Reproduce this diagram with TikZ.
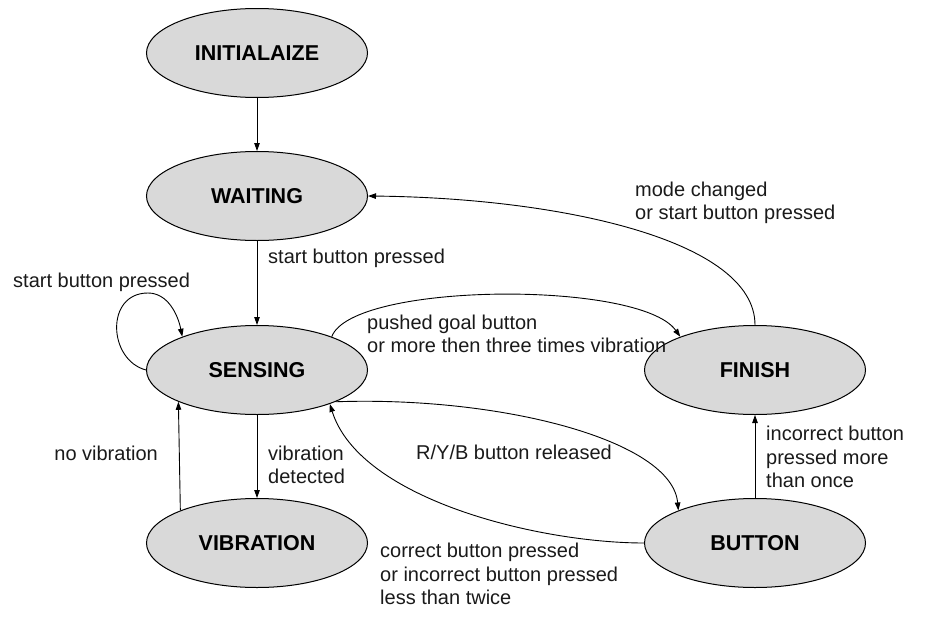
\documentclass[tikz,border=0pt]{standalone}
\usepackage{fontspec}
\setmainfont{Liberation Sans}
\usetikzlibrary{shapes.geometric,arrows.meta}
\definecolor{statefill}{HTML}{D9D9D9}
\definecolor{labeltext}{HTML}{1A1A1A}
\begin{document}
\begin{tikzpicture}[x=1pt,y=-1pt,
  state/.style={ellipse, draw=black, line width=1pt, fill=statefill,
    minimum width=221pt, minimum height=89pt, inner sep=0pt,
    font=\fontsize{21.5}{26}\selectfont\bfseries},
  arr/.style={draw=black, line width=0.9pt, -{Triangle[length=8pt,width=5.5pt]}},
  lbl/.style={anchor=west, align=left, inner sep=0pt,
    font=\fontsize{20}{23.5}\selectfont, text=labeltext}]
\useasboundingbox (0,0) rectangle (931,621);

% states
\node[state] (init) at (257,53)  {INITIALAIZE};
\node[state] (wait) at (257,196) {WAITING};
\node[state] (sens) at (257,370) {SENSING};
\node[state] (vib)  at (257,543) {VIBRATION};
\node[state] (fin)  at (755,370) {FINISH};
\node[state] (btn)  at (755,543) {BUTTON};

% transitions
\draw[arr] (init.south) -- (wait.north);
\draw[arr] (wait.south) -- (sens.north);
\draw[arr] (sens.west) .. controls (108,360) and (105,293) .. (148,293)
           .. controls (168,293) and (178,315) .. (sens.156);
\draw[arr] (sens.south) -- (vib.north);
\draw[arr] (vib.157.7) -- (sens.202.3);
\draw[arr] (sens.24) .. controls (352,282) and (640,280) .. (fin.156);
\draw[arr] (fin.north) .. controls (755,240) and (560,198) .. (wait.east);
\draw[arr] (sens.338) .. controls (500,396) and (672,440) .. (btn.157);
\draw[arr] (btn.west) .. controls (540,543) and (360,500) .. (sens.335);
\draw[arr] (btn.north) -- (fin.south);

% labels
\node[lbl] (l1) at (268,258) {start button pressed};
\node[lbl] (l2) at (13,282) {start button pressed};
\node[lbl] (l3) at (635,203) {mode changed\\or start button pressed};
\node[lbl] (l4) at (367,334) {pushed goal button\\or more then three times vibration};
\node[lbl] (l5) at (268,465) {vibration\\detected};
\node[lbl, anchor=east] (l6) at (158,453) {no vibration};
\node[lbl] (l7) at (416,452) {R/Y/B button released};
\node[lbl] (l8) at (766,457) {incorrect button\\pressed more\\than once};
\node[lbl] (l9) at (380,574) {correct button pressed\\or incorrect button pressed\\less than twice};
\end{tikzpicture}
\end{document}
